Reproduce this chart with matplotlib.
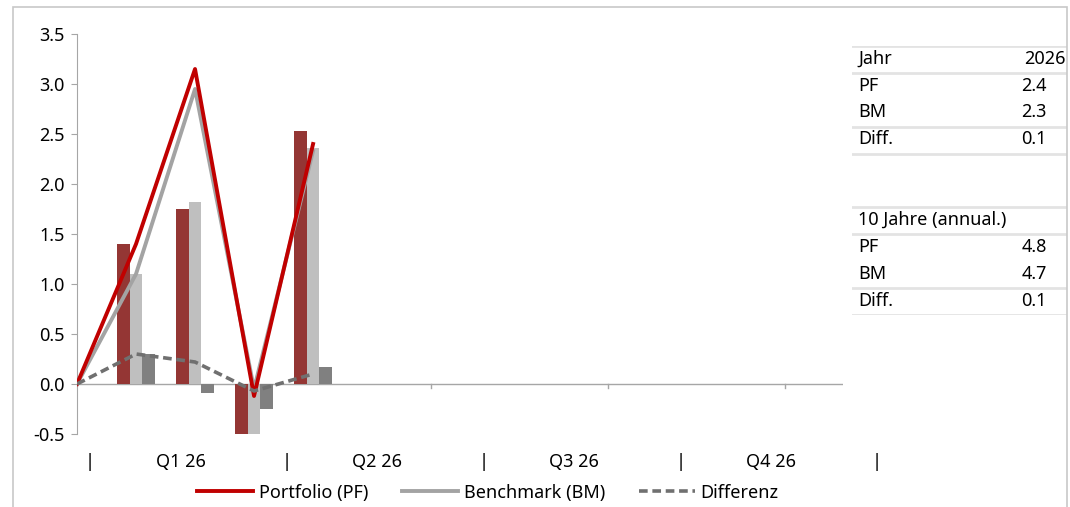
import matplotlib.pyplot as plt
from matplotlib.patches import Rectangle
import numpy as np

plt.rcParams['font.family'] = ['Noto Sans', 'DejaVu Sans']
FS = 13

# monthly data (month 0 = start)
months = [0, 1, 2, 3, 4]
pf_cum = [0.0, 1.4, 3.15, -0.12, 2.4]
bm_cum = [0.0, 1.1, 2.95, -0.05, 2.33]
diff_cum = [0.0, 0.3, 0.22, -0.07, 0.1]

bar_months = [1, 2, 3, 4]
pf_month = [1.4, 1.75, -3.2, 2.53]
bm_month = [1.1, 1.82, -2.95, 2.36]
diff_month = [0.3, -0.09, -0.25, 0.17]

quarters = ["Q1 26", "Q2 26", "Q3 26", "Q4 26"]

tab1_labels = ["Jahr", "PF", "BM", "Diff."]
tab1_values = ["2026", "2.4", "2.3", "0.1"]
tab2_labels = ["10 Jahre (annual.)", "PF", "BM", "Diff."]
tab2_values = ["", "4.8", "4.7", "0.1"]

W, H = 1070, 507
fig = plt.figure(figsize=(W / 100, H / 100), dpi=100)

def px_axes(x0, y0, x1, y1):
    return fig.add_axes([x0 / W, 1 - y1 / H, (x1 - x0) / W, (y1 - y0) / H])

# outer border
fig.add_artist(Rectangle((13 / W, -0.01), (1067 - 13) / W, 1 - 7 / H + 0.01,
                         transform=fig.transFigure, fill=False,
                         edgecolor='#C8C8C8', linewidth=1.2))

ax = px_axes(77, 34, 843, 434)
w = 0.215
x = np.array(bar_months)
ax.bar(x - w, pf_month, w, color='#943634', zorder=2)
ax.bar(x, bm_month, w, color='#BFBFBF', zorder=2)
ax.bar(x + w, diff_month, w, color='#808080', zorder=2)

ax.plot(months, pf_cum, color='#C00000', lw=2.8, zorder=4,
        label='Portfolio (PF)')
ax.plot(months, bm_cum, color='#A3A3A3', lw=2.8, zorder=3,
        label='Benchmark (BM)')
ax.plot(months, diff_cum, color='#707070', lw=2.6, ls=(0, (2.4, 1.3)),
        zorder=5, label='Differenz')

ax.axhline(0, color='#A6A6A6', lw=1, zorder=1)
for m in [3, 6, 9, 12]:
    ax.plot([m, m], [0, -0.04], color='#A6A6A6', lw=1, zorder=1)

ax.set_xlim(0, 12.98)
ax.set_ylim(-0.5, 3.5)
yt = np.arange(-0.5, 3.51, 0.5)
ax.set_yticks(yt)
ax.set_yticklabels([f"{v:.1f}" for v in yt])
ax.set_xticks([])
for s in ['top', 'right', 'bottom']:
    ax.spines[s].set_visible(False)
ax.spines['left'].set_color('#A6A6A6')
ax.tick_params(axis='y', colors='#A6A6A6', labelcolor='black',
               labelsize=FS, length=4, pad=5)

# quarter labels row
qax = px_axes(90, 450, 877, 474)
qax.set_xlim(0, 4)
qax.set_ylim(0, 1)
qax.axis('off')
for i, q in enumerate(quarters):
    qax.text(i + 0.46, 0.5, q, ha='center', va='center', fontsize=FS)
for i in range(5):
    qax.text(i, 0.5, "|", ha='center', va='center', fontsize=FS)

# table on the right
tax = px_axes(852, 46, 1067, 315)
tax.set_xlim(0, 1)
tax.set_ylim(10, 0)
tax.axis('off')
for start, labels, values in [(0, tab1_labels, tab1_values), (6, tab2_labels, tab2_values)]:
    for k in [0, 1, 3, 4]:
        tax.axhline(start + k, color='#E3E3E3', lw=2)
    for k, (lab, val) in enumerate(zip(labels, values)):
        tax.text(0.03, start + k + 0.47, lab, ha='left', va='center', fontsize=FS)
        xv = 0.995 if val == "2026" else 0.905
        tax.text(xv, start + k + 0.47, val, ha='right', va='center', fontsize=FS)

fig.legend(loc='center', bbox_to_anchor=(0.456, 0.028), ncol=3, frameon=False,
           fontsize=FS, handlelength=3.1, columnspacing=1.9, handletextpad=0.3)

fig.savefig('out.png', dpi=100)
